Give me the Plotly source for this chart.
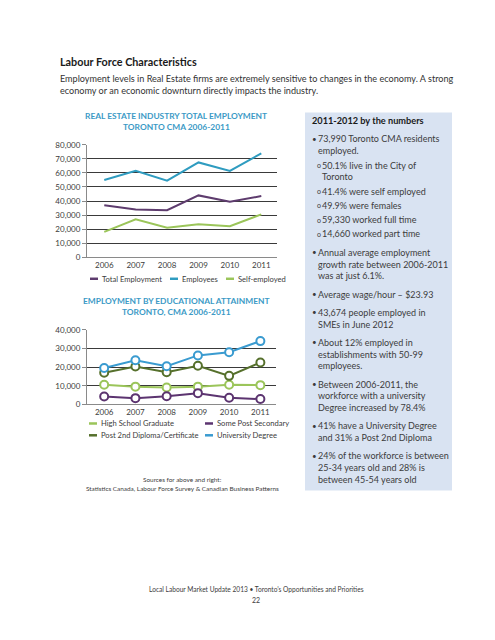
import plotly.graph_objects as go

# ---------------- data ----------------
years = ["2006", "2007", "2008", "2009", "2010", "2011"]

total_employment = [37000, 34000, 33500, 44000, 39500, 43500]
employees = [55000, 61500, 54500, 67500, 61500, 74000]
self_employed = [18000, 27000, 21000, 23500, 22000, 30500]

high_school = [10500, 9500, 9000, 9500, 10500, 10300]
some_post_secondary = [4200, 3300, 4300, 6000, 3500, 2800]
post_2nd_diploma = [17000, 20300, 17300, 20700, 15300, 22500]
university_degree = [19500, 23700, 20500, 26300, 28000, 34000]

top_ticks = [0, 10000, 20000, 30000, 40000, 50000, 60000, 70000, 80000]
bottom_ticks = [0, 10000, 20000, 30000, 40000]

panel_lines = [
    ("title", "2011-2012 by the numbers"),
    ("b", "73,990 Toronto CMA residents"),
    ("c", "employed."),
    ("s", "50.1% live in the City of"),
    ("sc", "Toronto"),
    ("s", "41.4% were self employed"),
    ("s", "49.9% were females"),
    ("s", "59,330 worked full time"),
    ("s", "14,660 worked part time"),
    ("b", "Annual average employment"),
    ("c", "growth rate between 2006-2011"),
    ("c", "was at just 6.1%."),
    ("b", "Average wage/hour \u2013 $23.93"),
    ("b", "43,674 people employed in"),
    ("c", "SMEs in June 2012"),
    ("b", "About 12% employed in"),
    ("c", "establishments with 50-99"),
    ("c", "employees."),
    ("b", "Between 2006-2011, the"),
    ("c", "workforce with a university"),
    ("c", "Degree increased by 78.4%"),
    ("b", "41% have a University Degree"),
    ("c", "and 31% a Post 2nd Diploma"),
    ("b", "24% of the workforce is between"),
    ("c", "25-34 years old and 28% is"),
    ("c", "between 45-54 years old"),
]

# ---------------- styling ----------------
W, H = 495, 640
FONT = "Lato"
C_PURPLE = "#5e3c6e"
C_BLUE_TOP = "#2f9cc0"
C_GREEN = "#9bc55a"
C_PURPLE2 = "#5c3470"
C_DKGREEN = "#56702c"
C_BLUE = "#3a9bd0"
C_TITLE = "#3b9ac6"
C_GRID = "#3a3a3a"
C_TEXT = "#3c3c3c"


def px(x):
    return x / W


def py(y):
    return 1 - y / H


fig = go.Figure()

# top chart
for name, vals, col in [
    ("Total Employment", total_employment, C_PURPLE),
    ("Employees", employees, C_BLUE_TOP),
    ("Self-employed", self_employed, C_GREEN),
]:
    fig.add_trace(go.Scatter(x=years, y=vals, mode="lines", name=name,
                             line=dict(color=col, width=2),
                             xaxis="x", yaxis="y", showlegend=False))

# bottom chart
for name, vals, col in [
    ("High School Graduate", high_school, C_GREEN),
    ("Some Post Secondary", some_post_secondary, C_PURPLE2),
    ("Post 2nd Diploma/Certificate", post_2nd_diploma, C_DKGREEN),
    ("University Degree", university_degree, C_BLUE),
]:
    fig.add_trace(go.Scatter(x=years, y=vals, mode="lines+markers", name=name,
                             line=dict(color=col, width=2),
                             marker=dict(symbol="circle", size=8, color="white",
                                         line=dict(color=col, width=2)),
                             xaxis="x2", yaxis="y2", showlegend=False))

axis_common = dict(
    showline=True, linecolor="#8a8a8a", linewidth=1,
    tickfont=dict(family=FONT, size=8, color=C_TEXT),
)

fig.update_layout(
    width=W, height=H,
    margin=dict(l=0, r=0, t=0, b=0),
    paper_bgcolor="white", plot_bgcolor="white",
    font=dict(family=FONT, color=C_TEXT),
    showlegend=False,
    xaxis=dict(domain=[px(79), px(269)], anchor="y", type="category",
               range=[-0.55, 5.5], showgrid=False, ticks="", ticklen=0,
               **axis_common),
    yaxis=dict(domain=[py(248), py(134)], anchor="x", range=[0, 80000],
               tickvals=top_ticks, tickformat=",", showgrid=True,
               gridcolor=C_GRID, gridwidth=1.4, zeroline=False,
               ticks="outside", ticklen=4, tickcolor="#8a8a8a",
               **axis_common),
    xaxis2=dict(domain=[px(79), px(268)], anchor="y2", type="category",
                range=[-0.55, 5.5], showgrid=False, ticks="", ticklen=0,
                **axis_common),
    yaxis2=dict(domain=[py(397.5), py(322)], anchor="x2", range=[0, 40000],
                tickvals=bottom_ticks, tickformat=",", showgrid=True,
                gridcolor=C_GRID, gridwidth=1.1, zeroline=False,
                ticks="outside", ticklen=4, tickcolor="#8a8a8a",
                **axis_common),
)

shapes = []
annotations = []


def text(x, y, t, size, color=C_TEXT, anchor="left", bold=False):
    annotations.append(dict(
        xref="paper", yref="paper", x=px(x), y=py(y),
        text=("<b>%s</b>" % t) if bold else t,
        showarrow=False, xanchor=anchor, yanchor="middle",
        font=dict(family=FONT, size=size, color=color),
    ))


# header
text(50, 49, "Labour Force Characteristics", 10.8, "#1a1a1a", bold=True)
text(50, 67, "Employment levels in Real Estate firms are extremely sensitive to changes in the economy. A strong", 9.1, "#333333")
text(50, 79, "economy or an economic downturn directly impacts the industry.", 9.1, "#333333")

# chart titles
text(168, 105, "REAL ESTATE INDUSTRY TOTAL EMPLOYMENT", 8.4, C_TITLE, "center", True)
text(168, 116, "TORONTO CMA 2006-2011", 8.4, C_TITLE, "center", True)
text(168, 293, "EMPLOYMENT BY EDUCATIONAL ATTAINMENT", 8.4, C_TITLE, "center", True)
text(168, 304, "TORONTO, CMA 2006-2011", 8.4, C_TITLE, "center", True)


# legends (swatch + label)
def legend_item(x, y, label, col):
    shapes.append(dict(type="line", xref="paper", yref="paper",
                       x0=px(x), x1=px(x + 8), y0=py(y), y1=py(y),
                       line=dict(color=col, width=2.5)))
    text(x + 10, y, label, 7.6, C_TEXT)


legend_item(82, 270, "Total Employment", C_PURPLE)
legend_item(162, 270, "Employees", C_BLUE_TOP)
legend_item(218, 270, "Self-employed", C_GREEN)

legend_item(81, 417, "High School Graduate", C_GREEN)
legend_item(197, 417, "Some Post Secondary", C_PURPLE2)
legend_item(81, 429, "Post 2nd Diploma/Certificate", C_DKGREEN)
legend_item(197, 429, "University Degree", C_BLUE)

# sources
text(174, 474, "Sources for above and right:", 6.4, C_TEXT, "center")
text(174, 483, "Statistics Canada, Labour Force Survey &amp; Canadian Business Patterns", 6.4, C_TEXT, "center")

# right panel
shapes.append(dict(type="rect", xref="paper", yref="paper", layer="below",
                   x0=px(297), x1=px(444), y0=py(485), y1=py(101),
                   fillcolor="#d9e3f2", line=dict(width=0)))

y = 109.5
prev = None
for kind, t in panel_lines:
    if prev is not None:
        if kind in ("c", "sc"):
            y += 12
        elif kind == "s":
            y += 14.5
        else:
            y += 18.5
    if kind == "title":
        text(302, y, t, 9.2, "#1a1a1a", bold=True)
    elif kind == "b":
        text(302, y, "\u2022", 8, C_TEXT)
        text(308, y, t, 9.0, C_TEXT)
    elif kind == "c":
        text(308, y, t, 9.0, C_TEXT)
    elif kind == "s":
        text(306.5, y, "o", 7, C_TEXT)
        text(312, y, t, 9.0, C_TEXT)
    elif kind == "sc":
        text(312, y, t, 9.0, C_TEXT)
    prev = kind

# footer
text(248, 585, "Local Labour Market Update 2013 \u2022 Toronto\u2019s Opportunities and Priorities", 6.6, C_TEXT, "center")
text(248, 596, "22", 7, C_TEXT, "center")

fig.update_layout(shapes=shapes, annotations=annotations)

fig.write_html("out.html")
